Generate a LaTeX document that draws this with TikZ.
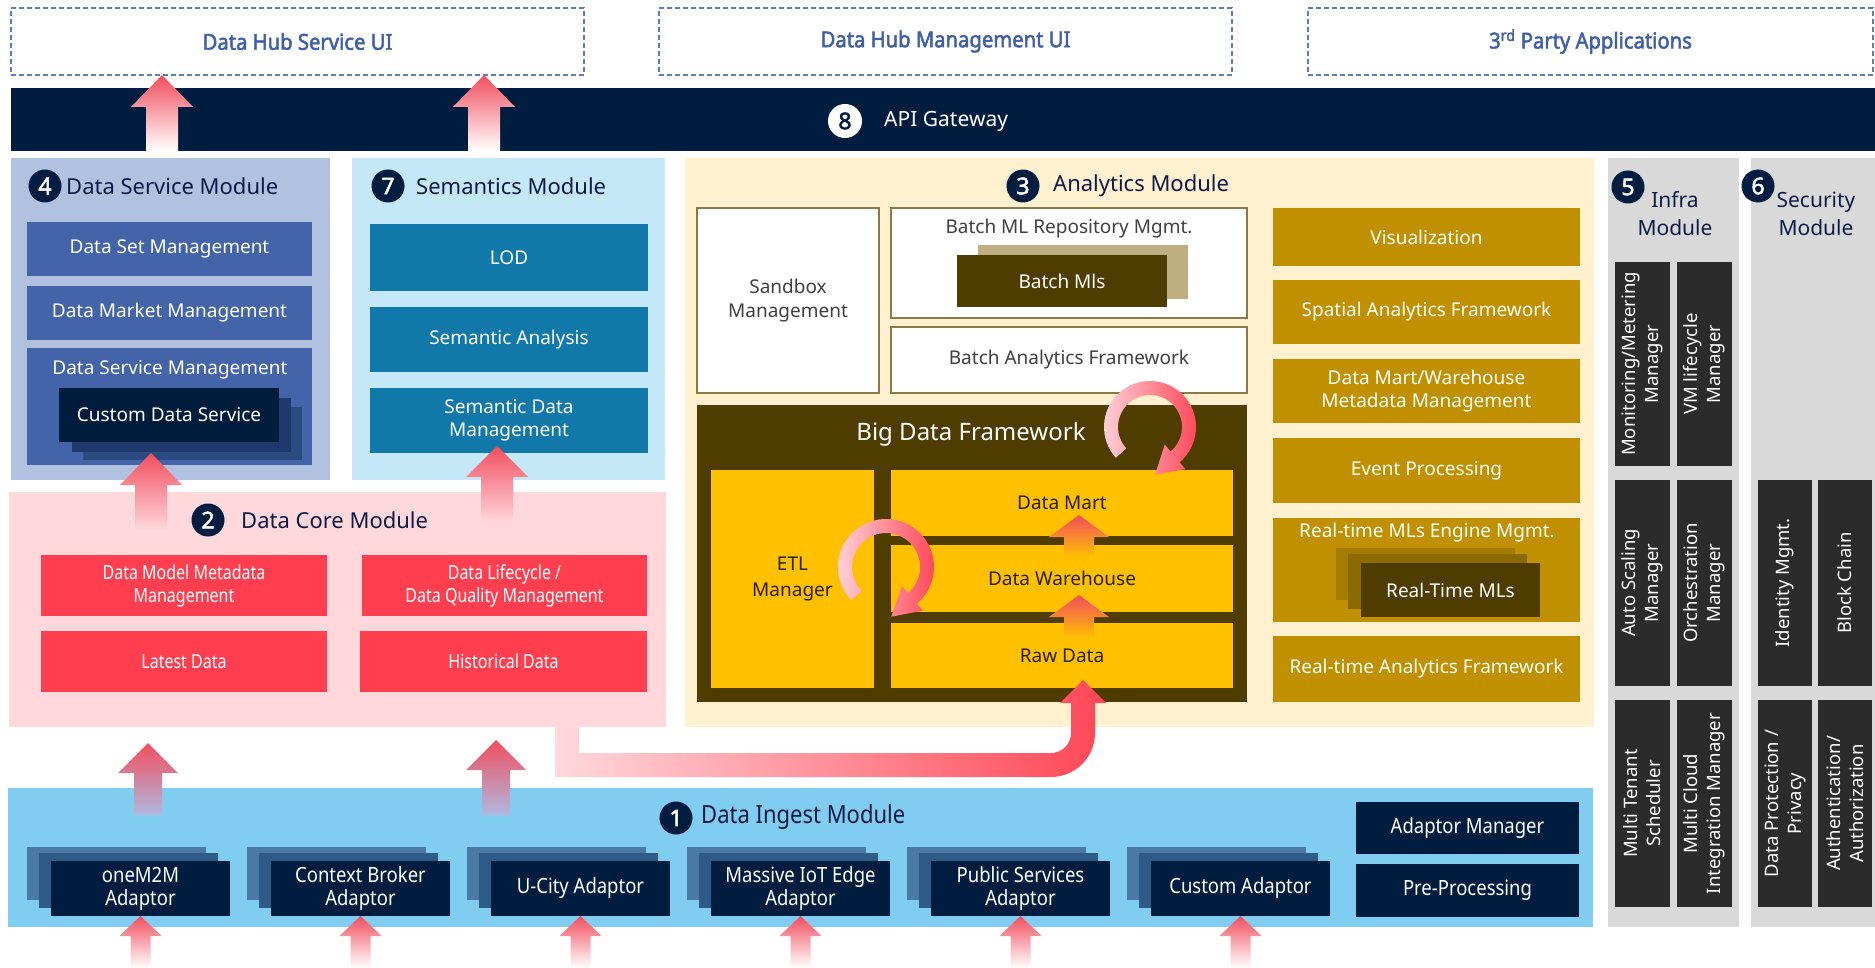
\documentclass[tikz,border=0pt]{standalone}
\usepackage{fontspec}
\setmainfont{Noto Sans}
\newfontfamily\condA{Noto Sans}[FakeStretch=0.82]
\newfontfamily\condB{Noto Sans}[FakeStretch=0.88]
\newfontfamily\bff{Noto Sans}[FakeBold=2.2]
\newfontfamily\bffc{Noto Sans}[FakeBold=2.2,FakeStretch=0.92]
\usetikzlibrary{calc}
\definecolor{navy}{HTML}{001C3F}
\definecolor{dashc}{HTML}{5B7BC0}
\definecolor{dtitle}{HTML}{3F5FA8}
\definecolor{dsmbg}{HTML}{B0C2E0}
\definecolor{dsmin}{HTML}{4364A8}
\definecolor{cdsa}{HTML}{001C3D}
\definecolor{cdsb}{HTML}{1E3A6C}
\definecolor{cdsc}{HTML}{2C4B80}
\definecolor{sembg}{HTML}{C5E8F8}
\definecolor{semin}{HTML}{1178AA}
\definecolor{anabg}{HTML}{FFF1CF}
\definecolor{olive}{HTML}{8A7A45}
\definecolor{bmlback}{HTML}{BFAE80}
\definecolor{brown}{HTML}{4F3C00}
\definecolor{yel}{HTML}{FFC000}
\definecolor{gold}{HTML}{C09000}
\definecolor{rtla}{HTML}{A37C00}
\definecolor{rtlb}{HTML}{8C6A00}
\definecolor{corebg}{HTML}{FFD8DC}
\definecolor{redb}{HTML}{FF3F4F}
\definecolor{ingbg}{HTML}{80CDF1}
\definecolor{adback}{HTML}{4A79A6}
\definecolor{admid}{HTML}{2E5A88}
\definecolor{grbg}{HTML}{D9D9D9}
\definecolor{darkg}{HTML}{2B2B2B}
\definecolor{arrred}{HTML}{F24E5E}
\definecolor{pinklt}{HTML}{FFD6DD}
\definecolor{rotr}{HTML}{FF4656}
\definecolor{titlec}{HTML}{0E1A45}
\definecolor{wtext}{HTML}{404040}
\definecolor{ytext}{HTML}{2A2000}
\definecolor{lav}{HTML}{B0B8E0}
\newcommand\bx[7][]{\node[inner sep=0pt,outer sep=0pt,align=center,anchor=north west,minimum width={(#5-#3)*1pt},minimum height={(#6-#4)*1pt},#1] (#2) at (#3,#4) {#7};}
\newcommand\fatup[7]{\shade[top color=#6,bottom color=#7] let \p1=(#1),\p2=(#2) in (\x1,\y1) -- (\x1+#4,\y1-#3) -- (\x1+#5,\y1-#3) -- (\x1+#5,\y2) -- (\x1-#5,\y2) -- (\x1-#5,\y1-#3) -- (\x1-#4,\y1-#3) -- cycle;}
\tikzset{
 dbox/.style={draw=dashc,dash pattern=on 5pt off 3pt,line width=1.3pt,text=dtitle,font=\bffc\fontsize{22}{26}\selectfont},
 wt/.style={text=white,font=\fontsize{19}{23}\selectfont},
 dsmi/.style={fill=dsmin,wt},
 semi/.style={fill=semin,wt},
 wbox/.style={fill=white,draw=olive,line width=1.5pt,text=wtext,font=\fontsize{19}{24}\selectfont},
 ybox/.style={fill=yel,text=ytext,font=\fontsize{19}{26}\selectfont},
 gbox/.style={fill=gold,wt},
 rbox/.style={fill=redb,text=white,font=\condA\fontsize{19.5}{23}\selectfont},
 navbox/.style={fill=navy,wt},
 adbox/.style={fill=navy,text=white,font=\condB\fontsize{21}{23}\selectfont},
 darkbox/.style={fill=darkg},
 vtxt/.style={rotate=90,align=center,text=white,font=\fontsize{18.5}{23}\selectfont,inner sep=0pt},
 numc/.style={circle,fill=navy,text=white,inner sep=0pt,minimum size=33pt,font=\bff\fontsize{23}{23}\selectfont},
 ttl/.style={text=titlec,font=\fontsize{22}{26}\selectfont,inner sep=0pt,anchor=west},
 plain/.style={inner sep=0pt,align=center},
}
\begin{document}
\begin{tikzpicture}[x=1pt,y=-1pt]
\useasboundingbox (0,0) rectangle (1875,968);
\fill[white] (0,0) rectangle (1875,968);

% ---------- top UI boxes
\bx[dbox]{dhs}{11}{8}{584}{75}{Data Hub Service UI}
\bx[dbox]{dhm}{659}{8}{1232}{75}{Data Hub Management UI}
\bx[dbox]{tpa}{1308}{8}{1873}{75}{3\textsuperscript{rd} Party Applications}

% ---------- API gateway
\bx[fill=navy]{gw}{11}{88}{1875}{151}{}
\node[circle,fill=white,text=navy,inner sep=0pt,minimum size=34pt,font=\bff\fontsize{23}{23}\selectfont] (n8) at (845,121) {8};
\node[anchor=west,text=white,font=\fontsize{21}{25}\selectfont,inner sep=0pt] (gwt) at (884,121) {API Gateway};

% ---------- Data service module
\bx[fill=dsmbg]{dsm}{11}{158}{330}{480}{}
\node[numc] (n4) at (45,186) {4};
\node[ttl] (t4) at (66,186) {Data Service Module};
\bx[dsmi]{dsset}{27}{222}{312}{276}{Data Set Management}
\bx[dsmi]{dsmkt}{27}{286}{312}{340}{Data Market Management}
\bx[dsmi]{dssvc}{27}{348}{312}{465}{}
\node[plain,wt] (dssvct) at (170,370) {Data Service Management};
\bx[fill=cdsc]{cdsl3}{83}{407}{302}{460}{}
\bx[fill=cdsb]{cdsl2}{72}{398}{291}{452}{}
\bx[fill=cdsa,wt]{cds}{59}{388}{279}{442}{Custom Data Service}

% ---------- Semantics module
\bx[fill=sembg]{sem}{352}{158}{665}{480}{}
\node[numc] (n7) at (388,186) {7};
\node[ttl] (t7) at (416,186) {Semantics Module};
\bx[semi]{lod}{370}{224}{648}{291}{LOD}
\bx[semi]{sema}{370}{307}{648}{372}{Semantic Analysis}
\bx[semi]{semd}{370}{388}{648}{453}{Semantic Data\\Management}

% ---------- Analytics module
\bx[fill=anabg]{ana}{685}{158}{1594}{727}{}
\node[numc] (n3) at (1023,186) {3};
\node[ttl] (t3) at (1053,186) {Analytics Module};
\bx[wbox]{sbx}{697}{208}{879}{393}{Sandbox\\Management}
\bx[wbox]{bmr}{891}{208}{1247}{318}{}
\node[plain,text=wtext,font=\fontsize{19}{23}\selectfont] (bmrt) at (1069,229) {Batch ML Repository Mgmt.};
\bx[fill=bmlback]{bmlb}{978}{245}{1188}{299}{}
\bx[fill=brown,wt]{bml}{957}{255}{1167}{307}{Batch Mls}
\bx[wbox]{baf}{891}{327}{1247}{393}{Batch Analytics Framework}
\bx[fill=brown]{bdf}{697}{405}{1247}{702}{}
\node[plain,text=white,font=\fontsize{24}{28}\selectfont] (bdft) at (971,434) {Big Data Framework};
\bx[ybox]{etl}{711}{470}{874}{688}{ETL\\Manager}
\bx[ybox]{dmart}{891}{470}{1233}{536}{Data Mart}
\bx[ybox]{dwh}{891}{545}{1233}{612}{Data Warehouse}
\bx[ybox]{raw}{891}{623}{1233}{688}{Raw Data}
\bx[gbox]{vis}{1273}{208}{1580}{266}{Visualization}
\bx[gbox]{spa}{1273}{280}{1580}{344}{Spatial Analytics Framework}
\bx[gbox]{dmw}{1273}{359}{1580}{423}{Data Mart/Warehouse\\Metadata Management}
\bx[gbox]{evp}{1273}{438}{1580}{503}{Event Processing}
\bx[gbox]{rtm}{1273}{518}{1580}{622}{}
\node[plain,wt] (rtmt) at (1427,533) {Real-time MLs Engine Mgmt.};
\bx[fill=rtla]{rtl1}{1336}{548}{1515}{600}{}
\bx[fill=rtlb]{rtl2}{1348}{554}{1527}{609}{}
\bx[fill=brown,wt]{rtml}{1361}{563}{1540}{617}{Real-Time MLs}
\bx[gbox]{rta}{1273}{636}{1580}{702}{Real-time Analytics Framework}

% ---------- Infra module
\bx[fill=grbg]{inf}{1608}{158}{1739}{927}{}
\node[numc] (n5) at (1628,187) {5};
\node[plain,text=titlec,font=\fontsize{21}{28}\selectfont] (t5) at (1675,214) {Infra\\Module};
\bx[darkbox]{mm}{1615}{262}{1670}{466}{}
\bx[darkbox]{vm}{1677}{262}{1732}{466}{}
\bx[darkbox]{as}{1615}{480}{1670}{686}{}
\bx[darkbox]{orc}{1677}{480}{1732}{686}{}
\bx[darkbox]{mts}{1615}{700}{1670}{907}{}
\bx[darkbox]{mci}{1677}{700}{1732}{907}{}
\node[vtxt] (mmt) at (mm.center) {Monitoring/Metering\\Manager};
\node[vtxt] (vmt) at (vm.center) {VM lifecycle\\Manager};
\node[vtxt] (ast) at (as.center) {Auto Scaling\\Manager};
\node[vtxt] (orct) at (orc.center) {Orchestration\\Manager};
\node[vtxt] (mtst) at (mts.center) {Multi Tenant\\Scheduler};
\node[vtxt] (mcit) at (mci.center) {Multi Cloud\\Integration Manager};

% ---------- Security module
\bx[fill=grbg]{sec}{1751}{158}{1875}{927}{}
\node[numc] (n6) at (1758,186) {6};
\node[plain,text=titlec,font=\fontsize{21}{28}\selectfont] (t6) at (1816,214) {Security\\Module};
\bx[darkbox]{idm}{1758}{480}{1812}{686}{}
\bx[darkbox]{bch}{1818}{480}{1872}{686}{}
\bx[darkbox]{dpp}{1758}{700}{1812}{907}{}
\bx[darkbox]{aut}{1818}{700}{1872}{907}{}
\node[vtxt] (idmt) at (idm.center) {Identity Mgmt.};
\node[vtxt] (bcht) at (bch.center) {Block Chain};
\node[vtxt] (dppt) at (dpp.center) {Data Protection /\\Privacy};
\node[vtxt] (autt) at (aut.center) {Authentication/\\Authorization};

% ---------- Data core module
\bx[fill=corebg]{core}{9}{492}{666}{727}{}
\node[numc] (n2) at (208,520) {2};
\node[ttl] (t2) at (241,520) {Data Core Module};
\bx[rbox]{dmm}{41}{555}{327}{616}{Data Model Metadata\\Management}
\bx[rbox]{dlc}{362}{555}{647}{616}{Data Lifecycle /\\Data Quality Management}
\bx[rbox]{lat}{41}{631}{327}{692}{Latest Data}
\bx[rbox]{his}{360}{631}{647}{692}{Historical Data}

% ---------- Data ingest module
\bx[fill=ingbg]{ing}{8}{788}{1593}{927}{}
\node[numc] (n1) at (676,818) {1};
\node[ttl,font=\condB\fontsize{25}{28}\selectfont] (t1) at (701,817) {Data Ingest Module};
\bx[adbox]{am}{1356}{802}{1579}{854}{Adaptor Manager}
\bx[adbox]{pp}{1356}{864}{1579}{917}{Pre-Processing}
\foreach \i/\tx/\nm in {0/{oneM2M\\Adaptor}/adA,1/{Context Broker\\Adaptor}/adB,2/{U-City Adaptor}/adC,3/{Massive IoT Edge\\Adaptor}/adD,4/{Public Services\\Adaptor}/adE,5/{Custom Adaptor}/adF}{
 \pgfmathsetmacro\xa{51+220*\i}
 \pgfmathsetmacro\xb{\xa+179}
 \pgfmathsetmacro\xc{\xa-24}
 \pgfmathsetmacro\xd{\xa+155}
 \pgfmathsetmacro\xe{\xa-12}
 \pgfmathsetmacro\xf{\xa+167}
 \pgfmathsetmacro\xm{\xa+89.5}
 \bx[fill=adback]{\nm b}{\xc}{847}{\xd}{900}{}
 \bx[fill=admid]{\nm m}{\xe}{853}{\xf}{908}{}
 \bx[adbox]{\nm}{\xa}{861}{\xb}{916}{\tx}
 \coordinate (\nm t) at (\xm,968);
 \edef\tipname{\nm.south}\edef\tailname{\nm t}
 \fatup{\tipname}{\tailname}{20pt}{21pt}{10pt}{arrred}{white}
}

% ---------- fat arrows
\coordinate (a1) at (162,151);
\coordinate (a2) at (484,151);
\fatup{dhs.south -| a1}{a1}{32pt}{31pt}{16pt}{arrred}{white}
\fatup{dhs.south -| a2}{a2}{32pt}{31pt}{16pt}{arrred}{white}
\coordinate (a3tip) at (151,453);
\coordinate (a3) at (151,530);
\fatup{a3tip}{a3}{32pt}{31pt}{16pt}{arrred}{corebg}
\coordinate (a4tip) at (497,446);
\coordinate (a4) at (497,523);
\fatup{a4tip}{a4}{31pt}{31pt}{16pt}{arrred}{corebg}
\coordinate (a5tip) at (148,743);
\coordinate (a5) at (148,815);
\fatup{a5tip}{a5}{30pt}{30pt}{14pt}{arrred}{lav}
\coordinate (a6tip) at (496,740);
\coordinate (a6) at (496,815);
\fatup{a6tip}{a6}{30pt}{30pt}{14pt}{arrred}{lav}
\coordinate (a7tip) at (1079,515);
\coordinate (a7) at (1079,557);
\fatup{a7tip}{a7}{22pt}{30pt}{15pt}{arrred}{yel}
\coordinate (a8tip) at (1079,595);
\coordinate (a8) at (1079,638);
\fatup{a8tip}{a8}{22pt}{30pt}{15pt}{arrred}{yel}

% L-shaped arrow from data core to raw data
\shade[left color=corebg,right color=rotr] (555,727) -- (579,727) -- (579,753) -- (1051,753) arc[start angle=90,end angle=0,radius=20] -- (1071,703) -- (1060,703) -- (1083,680) -- (1106,703) -- (1095,703) -- (1095,733) arc[start angle=0,end angle=90,radius=44] -- (555,777) -- cycle;

% rotating arrows
\begin{scope}[shift={(886,567)}]
\shade[left color=pinklt,middle color=pinklt!90!rotr,right color=rotr] (136:48) arc[start angle=136,end angle=410,radius=48] -- (410:57) -- (444:50) -- (410:25) -- (410:34) arc[start angle=410,end angle=136,radius=34] -- cycle;
\end{scope}
\begin{scope}[shift={(1150,427)}]
\shade[left color=pinklt,middle color=pinklt!90!rotr,right color=rotr] (138:46) arc[start angle=138,end angle=410,radius=46] -- (410:55) -- (444:48) -- (410:23) -- (410:32) arc[start angle=410,end angle=138,radius=32] -- cycle;
\end{scope}
\end{tikzpicture}
\end{document}
